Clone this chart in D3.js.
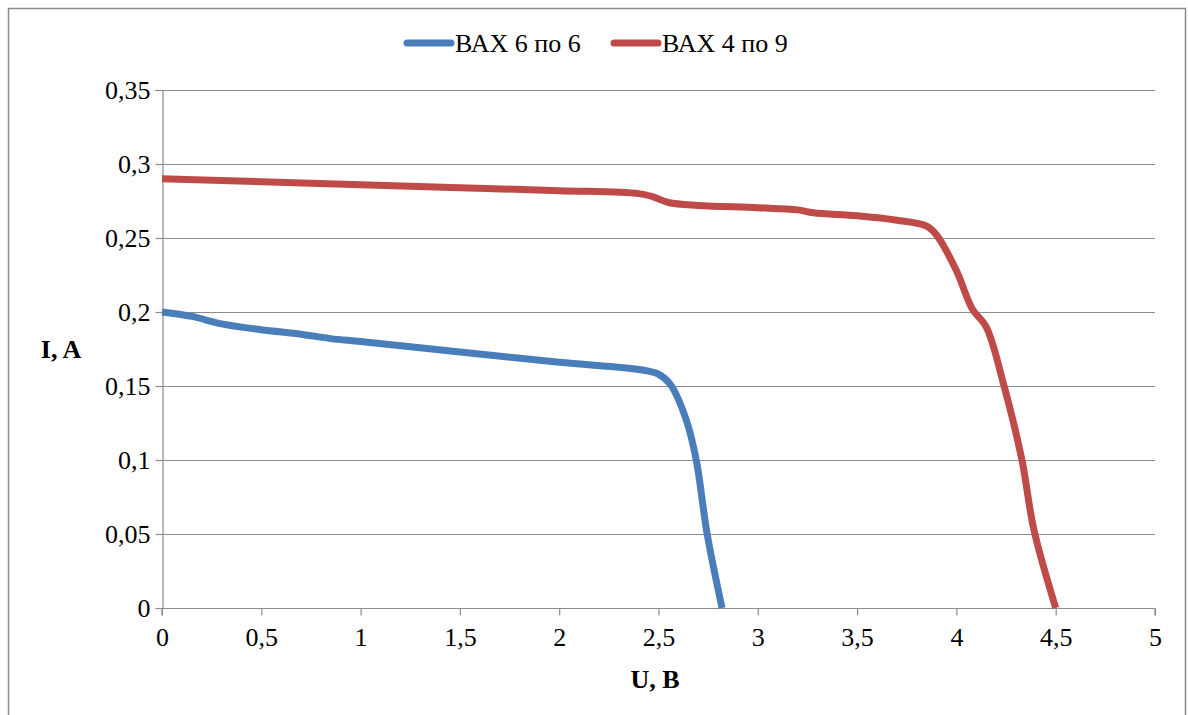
<!DOCTYPE html>
<html>
<head>
<meta charset="utf-8">
<script src="https://cdn.jsdelivr.net/npm/d3@7"></script>
<style>
  html, body { margin: 0; padding: 0; background: #fff; }
  svg { display: block; }
</style>
</head>
<body>
<svg id="chart" width="1188" height="715"></svg>
<script>
// Voltage (U, V) and current (I, A) for the 6x6 panel
const u66 = [0, 0.15, 0.3, 0.5, 0.7, 0.85, 1, 1.5, 2, 2.35, 2.45, 2.5, 2.56, 2.64, 2.69, 2.745, 2.82];
const i66 = [0.200, 0.197, 0.192, 0.188, 0.185, 0.182, 0.180, 0.173, 0.166, 0.162, 0.160, 0.158, 0.151, 0.127, 0.100, 0.050, 0];

// Voltage and current for the 4x9 panel
const u49 = [0, 0.5, 1, 1.5, 2, 2.4, 2.47, 2.55, 2.7, 3, 3.2, 3.28, 3.5, 3.7, 3.85, 3.9, 4.0, 4.08, 4.15, 4.24, 4.33, 4.39, 4.5];
const i49 = [0.290, 0.288, 0.286, 0.284, 0.282, 0.280, 0.278, 0.274, 0.272, 0.2705, 0.269, 0.267, 0.265, 0.262, 0.258, 0.252, 0.228, 0.202, 0.190, 0.150, 0.100, 0.053, 0];

const seriesNames = ["ВАХ 6 по 6", "ВАХ 4 по 9"];
const seriesColors = ["#4a7ebb", "#be4b48"];
const xTicks = [0, 0.5, 1, 1.5, 2, 2.5, 3, 3.5, 4, 4.5, 5];
const yTicks = [0, 0.05, 0.1, 0.15, 0.2, 0.25, 0.3, 0.35];
const xTitle = "U, B";
const yTitle = "I, A";

const FONT = '"Liberation Serif", "Times New Roman", serif';
const FS = "26px";

const svg = d3.select("#chart");
const fmt = v => String(v).replace(".", ",");

// Outer chart frame
svg.append("path")
  .attr("d", "M8.5,716 V8.5 H1185.5 V716")
  .attr("fill", "none").attr("stroke", "#8c8c8c").attr("stroke-width", 1.5);

const x = d3.scaleLinear().domain([0, 5]).range([162, 1155]);
const y = d3.scaleLinear().domain([0, 0.35]).range([608, 90]);

// Horizontal gridlines
svg.append("g").selectAll("line").data(yTicks.filter(v => v > 0)).join("line")
  .attr("x1", x(0)).attr("x2", x(5))
  .attr("y1", d => Math.round(y(d)) + 0.5).attr("y2", d => Math.round(y(d)) + 0.5)
  .attr("stroke", "#8c8c8c").attr("stroke-width", 1.2);

// Y axis
const yAxis = svg.append("g").attr("transform", `translate(${x(0) + 0.5},0)`)
  .call(d3.axisLeft(y).tickValues(yTicks).tickFormat(fmt).tickSize(7).tickPadding(5));
// X axis
const xAxis = svg.append("g").attr("transform", `translate(0,${Math.round(y(0)) + 0.5})`)
  .call(d3.axisBottom(x).tickValues(xTicks).tickFormat(fmt).tickSize(7).tickPadding(12));

[yAxis, xAxis].forEach(g => {
  g.select(".domain").attr("stroke", "#8c8c8c").attr("stroke-width", 1.2);
  g.selectAll(".tick line").attr("stroke", "#8c8c8c").attr("stroke-width", 1.2);
  g.selectAll("text")
    .style("font-family", FONT).style("font-size", FS).attr("fill", "#000");
});
xAxis.select(".domain").attr("d", `M${x(0)},7V0H${x(5)}V7`);

// Axis titles
svg.append("text").attr("x", 655).attr("y", 688).attr("text-anchor", "middle")
  .style("font-family", FONT).style("font-size", FS).style("font-weight", "bold").text(xTitle);
svg.append("text").attr("x", 61).attr("y", 358).attr("text-anchor", "middle")
  .style("font-family", FONT).style("font-size", FS).style("font-weight", "bold").text(yTitle);

// Smoothed curves
const series = [d3.zip(u66, i66), d3.zip(u49, i49)];
const lineFor = d3.line().x(d => x(d[0])).y(d => y(d[1])).curve(d3.curveCatmullRom.alpha(0.5));

svg.append("g").selectAll("path").data(series).join("path")
  .attr("d", lineFor)
  .attr("fill", "none")
  .attr("stroke", (d, i) => seriesColors[i])
  .attr("stroke-width", 7)
  .attr("stroke-linejoin", "round")
  .attr("stroke-linecap", "butt");

// Legend
const legend = svg.append("g");
const legendX = [407, 614];
seriesNames.forEach((name, i) => {
  legend.append("line")
    .attr("x1", legendX[i]).attr("x2", legendX[i] + 44)
    .attr("y1", 43).attr("y2", 43)
    .attr("stroke", seriesColors[i]).attr("stroke-width", 7).attr("stroke-linecap", "round");
  legend.append("text")
    .attr("x", legendX[i] + 48).attr("y", 52)
    .style("font-family", FONT).style("font-size", FS).attr("fill", "#000")
    .text(name);
});
</script>
</body>
</html>
